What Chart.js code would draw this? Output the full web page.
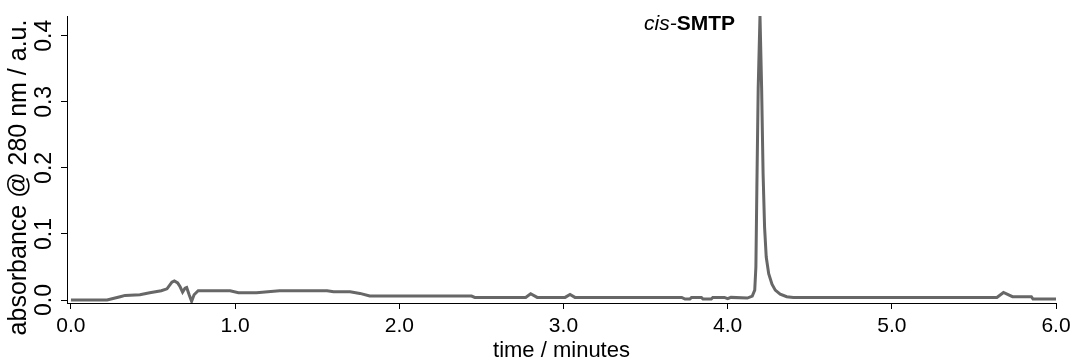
<!DOCTYPE html>
<html>
<head>
<meta charset="utf-8">
<script src="https://cdn.jsdelivr.net/npm/chart.js@4.4.1/dist/chart.umd.min.js"></script>
<style>
  html, body { margin: 0; padding: 0; background: #fff; }
  #wrap { width: 1071px; height: 362px; }
</style>
</head>
<body>
<div id="wrap"><canvas id="chromChart"></canvas></div>
<script>
// retention time (min) and absorbance @ 280 nm (a.u.)
const timeMin = [
    0.00, 0.22, 0.30, 0.33, 0.42, 0.48, 0.55, 0.585, 0.615, 0.63,
    0.65, 0.665, 0.68, 0.695, 0.705, 0.72, 0.735, 0.75, 0.775, 0.97,
    1.02, 1.13, 1.27, 1.56, 1.60, 1.70, 1.76, 1.82, 2.44, 2.46,
    2.77, 2.80, 2.84, 3.01, 3.04, 3.07, 3.72, 3.74, 3.77, 3.78,
    3.84, 3.85, 3.90, 3.91, 3.98, 4.00, 4.02, 4.12, 4.15, 4.165,
    4.172, 4.178, 4.186, 4.197, 4.207, 4.216, 4.225, 4.235, 4.25, 4.27,
    4.29, 4.32, 4.36, 4.40, 5.64, 5.68, 5.735, 5.85, 5.86, 6.00
];
const absorbance = [
    0.000, 0.000, 0.005, 0.007, 0.008, 0.011, 0.014, 0.017, 0.027, 0.029,
    0.026, 0.020, 0.012, 0.018, 0.019, 0.008, -0.002, 0.008, 0.014, 0.014,
    0.011, 0.011, 0.014, 0.014, 0.0125, 0.0125, 0.010, 0.006, 0.006, 0.004,
    0.004, 0.0095, 0.004, 0.004, 0.0085, 0.004, 0.004, 0.0015, 0.0015, 0.004,
    0.004, 0.0015, 0.0015, 0.004, 0.004, 0.002, 0.004, 0.003, 0.006, 0.015,
    0.050, 0.170, 0.320, 0.430, 0.320, 0.190, 0.110, 0.065, 0.040, 0.024,
    0.015, 0.009, 0.005, 0.004, 0.004, 0.0115, 0.005, 0.005, 0.0015, 0.0015
];
const xTicks = [0, 1, 2, 3, 4, 5, 6];
const yTicks = [0, 0.1, 0.2, 0.3, 0.4];
const peakLabel = ['cis-', 'SMTP'];
const peakLabelAt = [4.045, 0.409];   // right end / baseline of the label, in data units
const yTitle = 'absorbance @ 280 nm / a.u.';

const FONT = '"Liberation Sans", Arial, Helvetica, sans-serif';
Chart.defaults.font.family = FONT;
Chart.defaults.color = '#000';

// axis title on the left + peak label (mixed italic / bold)
const textPlugin = {
    id: 'chromText',
    afterDraw(chart) {
        const { ctx, chartArea, scales: { x, y } } = chart;
        ctx.save();
        ctx.fillStyle = '#000';

        ctx.translate(19, (chartArea.top + chartArea.bottom) / 2 + 18);
        ctx.rotate(-Math.PI / 2);
        ctx.font = '25px ' + FONT;
        ctx.textAlign = 'center';
        ctx.textBaseline = 'middle';
        ctx.fillText(yTitle, 0, 0);
        ctx.setTransform(1, 0, 0, 1, 0, 0);

        const right = x.getPixelForValue(peakLabelAt[0]);
        const base = y.getPixelForValue(peakLabelAt[1]);
        ctx.textBaseline = 'alphabetic';
        ctx.textAlign = 'right';
        ctx.font = 'bold 21px ' + FONT;
        const boldW = ctx.measureText(peakLabel[1]).width;
        ctx.fillText(peakLabel[1], right, base);
        ctx.font = 'italic 21px ' + FONT;
        ctx.fillText(peakLabel[0], right - boldW, base);
        ctx.restore();
    }
};

function initChromChart() {
    const ctx = document.getElementById('chromChart').getContext('2d');
    const points = timeMin.map((t, i) => ({ x: t, y: absorbance[i] }));

    new Chart(ctx, {
        type: 'line',
        data: {
            datasets: [{
                data: points,
                borderColor: '#676767',
                borderWidth: 3,
                pointRadius: 0,
                tension: 0,
                fill: false
            }]
        },
        options: {
            responsive: true,
            maintainAspectRatio: false,
            devicePixelRatio: 1,
            animation: false,
            layout: { padding: { left: 0, right: 15, top: 16, bottom: 0 } },
            plugins: { legend: { display: false }, tooltip: { enabled: false } },
            scales: {
                x: {
                    type: 'linear',
                    min: -0.024,
                    max: 6.0,
                    afterBuildTicks: (s) => { s.ticks = xTicks.map(v => ({ value: v })); },
                    afterFit: (s) => {
                        s.height = 59;
                        s.paddingLeft = 0;
                        s.paddingRight = 15;
                    },
                    grid: { drawOnChartArea: false, drawTicks: true, tickLength: 6, color: '#000', lineWidth: 1 },
                    border: { display: true, color: '#000', width: 1 },
                    ticks: {
                        autoSkip: false,
                        maxRotation: 0,
                        padding: 5,
                        font: { size: 21 },
                        callback: (v) => v.toFixed(1)
                    },
                    title: {
                        display: true,
                        text: 'time / minutes',
                        font: { size: 22, lineHeight: 1 },
                        padding: { top: 0, bottom: 0 }
                    }
                },
                y: {
                    min: -0.0045,
                    max: 0.430,
                    afterBuildTicks: (s) => { s.ticks = yTicks.map(v => ({ value: v })); },
                    afterFit: (s) => { s.width = 67; },
                    grid: { drawOnChartArea: false, drawTicks: true, tickLength: 6, color: '#000', lineWidth: 1 },
                    border: { display: true, color: '#000', width: 1 },
                    ticks: {
                        autoSkip: false,
                        minRotation: 90,
                        maxRotation: 90,
                        crossAlign: 'center',
                        padding: 0,
                        font: { size: 23 },
                        callback: (v) => v.toFixed(1)
                    }
                }
            }
        },
        plugins: [textPlugin]
    });
}

document.addEventListener('DOMContentLoaded', initChromChart);
</script>
</body>
</html>
